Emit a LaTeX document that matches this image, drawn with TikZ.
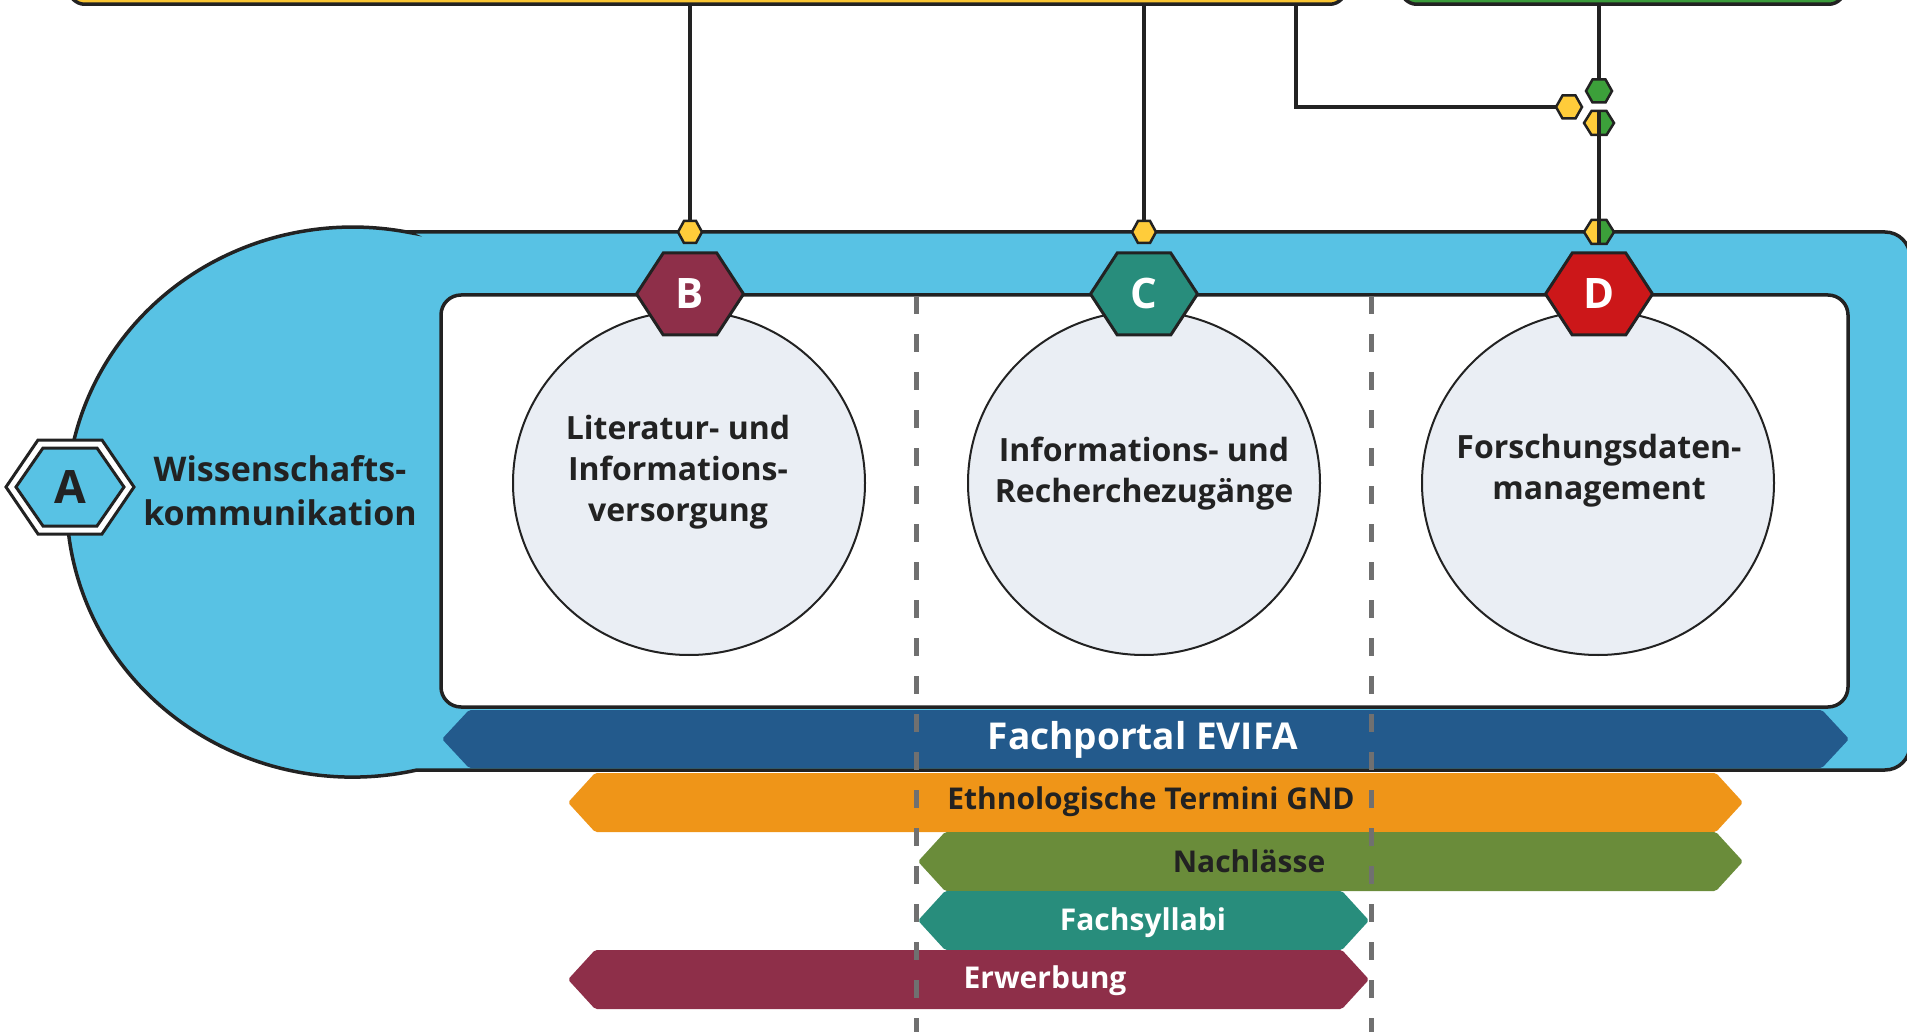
\documentclass[tikz,border=0pt]{standalone}
\usepackage{fontspec}
\setmainfont{Open Sans}
\usetikzlibrary{positioning, calc, shapes.geometric}

\definecolor{bandblau}{HTML}{58C2E4}
\definecolor{portalblau}{HTML}{235A8C}
\definecolor{gelb}{HTML}{FFCC3A}
\definecolor{gelbbalken}{HTML}{FAC532}
\definecolor{gruen}{HTML}{3CA03A}
\definecolor{gruenbalken}{HTML}{3A9B3A}
\definecolor{leistenorange}{HTML}{EF9518}
\definecolor{oliv}{HTML}{6A8C3A}
\definecolor{petrol}{HTML}{288D7C}
\definecolor{weinrot}{HTML}{8E2F49}
\definecolor{signalrot}{HTML}{CC1719}
\definecolor{kreisgrau}{HTML}{EAEEF4}
\definecolor{linie}{HTML}{222222}
\definecolor{strich}{HTML}{707070}

% #1 centre, #2 half width, #3 half height, #4 options
\newcommand{\sechseck}[4]{\path[#4] (#1) ++(-#2,0) -- ++({#2/2},-#3) -- ++(#2,0) -- ++({#2/2},#3) -- ++({-#2/2},#3) -- ++(-#2,0) -- cycle;}
\newcommand{\halbsechseck}[3]{%
  \fill[gelb] (#1) ++(0,-#3) -- ++({-#2/2},0) -- ++({-#2/2},#3) -- ++({#2/2},#3) -- ++({#2/2},0) -- cycle;
  \fill[gruen] (#1) ++(0,-#3) -- ++({#2/2},0) -- ++({#2/2},#3) -- ++({-#2/2},#3) -- ++({-#2/2},0) -- cycle;
  \sechseck{#1}{#2}{#3}{draw=linie, line width=2.5}}
% #1 fill, #2 left tip, #3 right tip, #4 top, #5 bottom
\newcommand{\leiste}[5]{\fill[#1, rounded corners=2] (#2,{(#4+#5)/2}) -- ({#2+27},#4) -- ({#3-27},#4) -- (#3,{(#4+#5)/2}) -- ({#3-27},#5) -- ({#2+27},#5) -- cycle;}

\begin{document}
\begin{tikzpicture}[x=1pt, y=-1pt,
  verbinder/.style={draw=linie, line width=4},
  umriss/.style={draw=linie, line width=3.5},
  kreis/.style={ellipse, draw=linie, line width=2, fill=kreisgrau, minimum width=352pt, minimum height=344pt, inner sep=0},
  kreistext/.style={align=center, font=\bfseries\fontsize{32}{41}\selectfont, text=linie},
  leistentext/.style={font=\bfseries\fontsize{30}{36}\selectfont, text height=21.4pt, text depth=0pt, inner sep=0},
  hexbuchstabe/.style={font=\bfseries\fontsize{42}{42}\selectfont, text=white, text height=30pt, text depth=0pt, inner sep=0},
  strichlinie/.style={draw=strich, line width=5, dash pattern=on 18pt off 20pt}]

\useasboundingbox (0,0) rectangle (1907,1032);

% Balken oben
\node[umriss, fill=gelbbalken, rounded corners=16, minimum width=1277pt, minimum height=80pt, inner sep=0, anchor=south west] (gelbbar) at (67,6) {};
\node[umriss, fill=gruenbalken, rounded corners=16, minimum width=444pt, minimum height=80pt, inner sep=0, anchor=south west] (gruenbar) at (1399,6) {};

\coordinate (kappeB) at (690,232);
\coordinate (kappeC) at (1144,232);
\coordinate (kappeD) at (1599,232);
\coordinate (hexGelb) at (1569,107);
\coordinate (hexGruen) at (1599,91);
\coordinate (hexMisch) at (1599,123);

\draw[verbinder] (gelbbar.south -| kappeB) -- (kappeB);
\draw[verbinder] (gelbbar.south -| kappeC) -- (kappeC);
\draw[verbinder] ([xshift=-52pt]gelbbar.south east) |- (hexGelb);
\draw[verbinder] (gruenbar.south -| hexGruen) -- (hexGruen);

% Band
\path[umriss, fill=bandblau] (407,232) -- (1885,232) arc[start angle=-90, end angle=0, radius=25]
  -- (1910,745) arc[start angle=0, end angle=90, radius=25]
  -- (417,770) arc[start angle=77, end angle=281, x radius=286, y radius=275] -- cycle;
\path[umriss, fill=white, rounded corners=20] (441,295) rectangle (1848,707);

\node[kreis] (kreisB) at (689,483) {};
\node[kreis] (kreisC) at (1144,483) {};
\node[kreis] (kreisD) at (1598,483) {};

\node[kreistext] (textB) at (678,472) {Literatur- und\\Informations-\\versorgung};
\node[kreistext] (textC) at (1144,474) {Informations- und\\Recherchezugänge};
\node[kreistext] (textD) at (1599,471) {Forschungsdaten-\\management};

% Leisten
\fill[portalblau, rounded corners=2] (442,739) -- (469,710) -- (1822,710) -- (1849,739) -- (1822,768) -- (469,768) -- cycle;
\leiste{leistenorange}{568}{1743}{773}{832}
\leiste{oliv}{918}{1743}{832}{891}
\leiste{petrol}{918}{1369}{891}{950}
\leiste{weinrot}{568}{1369}{950}{1009}

\node[leistentext, font=\bfseries\fontsize{37}{42}\selectfont, text height=26.4pt, text=white] (portal) at (1143,736) {Fachportal EVIFA};
\node[leistentext, text=linie] (gnd) at (1151,799) {Ethnologische Termini GND};
\node[leistentext, text=linie] (nachlass) at (1249,862) {Nachlässe};
\node[leistentext, text=white] (syllabi) at (1143,920) {Fachsyllabi};
\node[leistentext, text=white] (erwerb) at (1045,978) {Erwerbung};

\draw[strichlinie] (916,296) -- (916,1032);
\draw[strichlinie] (1371,296) -- (1371,1032);

% Sechsecke
\coordinate (hexB) at (690,294);
\coordinate (hexC) at (1144,294);
\coordinate (hexD) at (1599,294);
\sechseck{hexB}{53.5}{41}{draw=linie, line width=3, fill=weinrot}
\sechseck{hexC}{53.5}{41}{draw=linie, line width=3, fill=petrol}
\sechseck{hexD}{53.5}{41}{draw=linie, line width=3, fill=signalrot}
\node[hexbuchstabe] (buchstabeB) at (hexB) {B};
\node[hexbuchstabe] (buchstabeC) at (hexC) {C};
\node[hexbuchstabe] (buchstabeD) at (hexD) {D};

\sechseck{kappeB}{12}{11}{draw=linie, line width=2.5, fill=gelb}
\sechseck{kappeC}{12}{11}{draw=linie, line width=2.5, fill=gelb}
\sechseck{hexGelb}{13}{11.5}{draw=linie, line width=2.5, fill=gelb}
\sechseck{hexGruen}{13}{11.5}{draw=linie, line width=2.5, fill=gruen}
\halbsechseck{hexMisch}{15}{12}
\halbsechseck{kappeD}{15}{12}
\draw[verbinder] ($(hexMisch)+(0,-12)$) -- ($(kappeD)+(0,12)$);

% A
\coordinate (hexA) at (70,487);
\sechseck{hexA}{64}{47}{draw=linie, line width=3, fill=white}
\sechseck{hexA}{54}{39}{draw=linie, line width=3, fill=bandblau}
\node[hexbuchstabe, font=\bfseries\fontsize{46}{46}\selectfont, text height=33pt, text=linie] (buchstabeA) at (hexA) {A};
\node[align=center, font=\bfseries\fontsize{34}{44}\selectfont, text=linie] (textA) at (280,491) {Wissenschafts-\\kommunikation};
\end{tikzpicture}
\end{document}
